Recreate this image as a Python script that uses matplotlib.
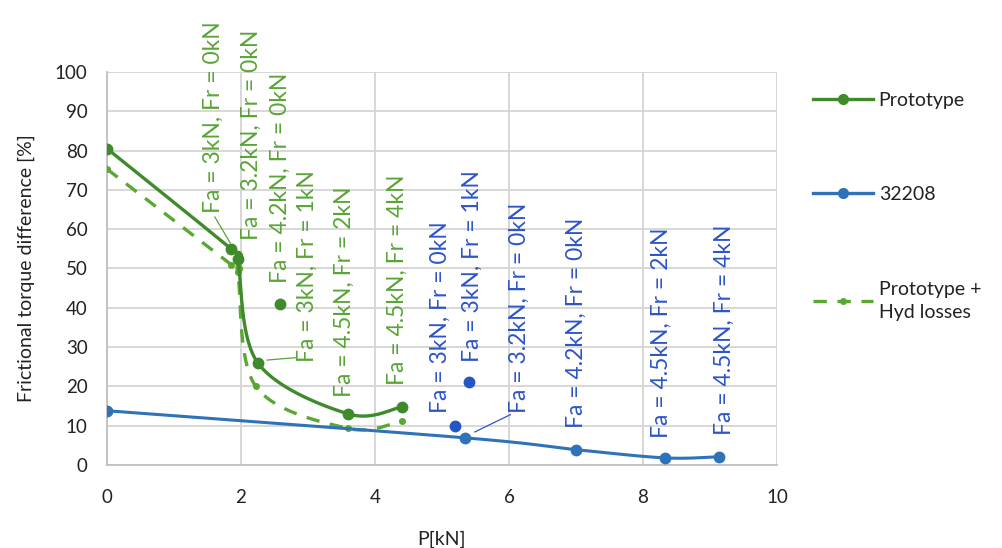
import numpy as np
import matplotlib
matplotlib.use("Agg")
import matplotlib.pyplot as plt
from matplotlib.lines import Line2D

plt.rcParams['font.family'] = ['Lato', 'DejaVu Sans']

# ---- data ----
proto_x = [0.0, 1.85, 1.95, 2.25, 3.6, 4.4]
proto_y = [80.5, 55.0, 52.3, 26.0, 13.0, 14.8]

hyd_x = [0.0, 1.85, 1.95, 2.22, 3.6, 4.4]
hyd_y = [75.3, 51.0, 49.0, 20.0, 9.3, 11.2]

b_x = [0.0, 5.35, 7.0, 8.33, 9.13]
b_y = [13.8, 6.9, 3.9, 1.8, 2.1]

green_single_x = [2.58]
green_single_y = [41.0]
blue_single_x = [5.2, 5.4]
blue_single_y = [9.8, 21.2]

green_labels = ["Fa = 3kN, Fr = 0kN", "Fa = 3.2kN, Fr = 0kN", "Fa = 4.2kN, Fr = 0kN",
                "Fa = 3kN, Fr = 1kN", "Fa = 4.5kN, Fr = 2kN", "Fa = 4.5kN, Fr = 4kN"]
blue_labels = ["Fa = 3kN, Fr = 0kN", "Fa = 3kN, Fr = 1kN", "Fa = 3.2kN, Fr = 0kN",
               "Fa = 4.2kN, Fr = 0kN", "Fa = 4.5kN, Fr = 2kN", "Fa = 4.5kN, Fr = 4kN"]

# label anchor positions (layout)
green_pos = [(1.58, 64.1), (2.16, 57.3), (2.58, 46.3), (2.99, 26.2), (3.55, 17.3), (4.33, 20.4)]
blue_pos = [(4.97, 13.2), (5.46, 26.2), (6.16, 13.2), (7.01, 9.4), (8.28, 6.9), (9.22, 7.6)]

C_PROTO = '#3f8b2c'
C_HYD = '#5aa832'
C_GTXT = '#5aa436'
C_BLUE = '#2f72b8'
C_BTXT = '#2d55c8'


def smooth(xs, ys, n=40, sx=67.0, sy=3.93):
    X = np.array(xs) * sx
    Y = np.array(ys) * sy
    P = np.column_stack([X, Y])
    out = [P[0]]
    m = len(P)
    for i in range(m - 1):
        p0 = P[i - 1] if i > 0 else P[i]
        p1 = P[i]
        p2 = P[i + 1]
        p3 = P[i + 2] if i + 2 < m else P[i + 1]
        c1 = p1 + (p2 - p0) / 6.0
        c2 = p2 - (p3 - p1) / 6.0
        t = np.linspace(0, 1, n)[1:, None]
        seg = ((1 - t) ** 3) * p1 + 3 * ((1 - t) ** 2) * t * c1 + 3 * (1 - t) * t ** 2 * c2 + t ** 3 * p2
        out.extend(seg)
    out = np.array(out)
    return out[:, 0] / sx, out[:, 1] / sy


fig = plt.figure(figsize=(10.02, 5.48), dpi=100)
ax = fig.add_axes([0.1068, 0.1515, 0.6686, 0.7171])

ax.set_xlim(0, 10)
ax.set_ylim(0, 100)
ax.set_xticks(np.arange(0, 11, 2))
ax.set_yticks(np.arange(0, 101, 10))
ax.grid(True, color='#d4d4d4', linewidth=1.3)
ax.set_axisbelow(True)
for s in ['top', 'right']:
    ax.spines[s].set_visible(False)
for s in ['left', 'bottom']:
    ax.spines[s].set_color('#bfbfbf')
    ax.spines[s].set_linewidth(1.3)
ax.tick_params(axis='y', length=0, labelsize=13.5, pad=14)
ax.tick_params(axis='x', length=0, labelsize=13.5, pad=17)
for lab in ax.get_xticklabels() + ax.get_yticklabels():
    lab.set_color('#222222')

# smoothed lines
hx, hy = smooth(hyd_x, hyd_y)
ax.plot(hx, hy, color=C_HYD, lw=2.4, dashes=(4, 3.2), zorder=3)
ax.plot(hyd_x, hyd_y, 'o', color=C_HYD, ms=4, zorder=4)

px, py = smooth(proto_x, proto_y)
ax.plot(px, py, color=C_PROTO, lw=2.4, zorder=5)
ax.plot(proto_x, proto_y, 'o', color=C_PROTO, ms=7.5, zorder=6)

bx, by = smooth(b_x, b_y)
ax.plot(bx, by, color=C_BLUE, lw=2.2, zorder=5)
ax.plot(b_x, b_y, 'o', color=C_BLUE, ms=7.5, zorder=6)

ax.plot(green_single_x, green_single_y, 'o', color=C_PROTO, ms=7.5, zorder=6, ls='none')
ax.plot(blue_single_x, blue_single_y, 'o', color='#2457c4', ms=7.5, zorder=6, ls='none')

# leader lines
ax.plot([1.84, 1.61], [56.5, 63.1], color=C_GTXT, lw=0.9, zorder=4)
ax.plot([2.39, 2.81], [26.7, 27.3], color=C_GTXT, lw=0.9, zorder=4)
ax.plot([5.49, 6.02], [8.4, 12.8], color=C_BTXT, lw=0.9, zorder=4)

for t, (x, y) in zip(green_labels, green_pos):
    ax.text(x, y, t, rotation=90, ha='center', va='bottom', color=C_GTXT,
            fontsize=16.5, zorder=7, clip_on=False)
for t, (x, y) in zip(blue_labels, blue_pos):
    ax.text(x, y, t, rotation=90, ha='center', va='bottom', color=C_BTXT,
            fontsize=16.5, zorder=7, clip_on=False)

ax.set_xlabel('P[kN]', fontsize=14, color='#222222', labelpad=18)
ax.set_ylabel('Frictional torque difference [%]', fontsize=14, color='#222222', labelpad=14)

handles = [
    Line2D([], [], color=C_PROTO, lw=2.4, marker='o', ms=7),
    Line2D([], [], color=C_BLUE, lw=2.4, marker='o', ms=7),
    Line2D([], [], color=C_HYD, lw=2.4, dashes=(4, 3.2), marker='o', ms=4),
]
leg = fig.legend(handles, ['Prototype', '32208', 'Prototype +\nHyd losses'],
                 loc='upper left', bbox_to_anchor=(0.811, 0.833), frameon=False,
                 fontsize=14, handlelength=3.1, handletextpad=0.3, labelspacing=4.0,
                 borderpad=0, borderaxespad=0)
for t in leg.get_texts():
    t.set_color('#222222')
    t.set_linespacing(1.45)

fig.savefig('out.png', dpi=100)
